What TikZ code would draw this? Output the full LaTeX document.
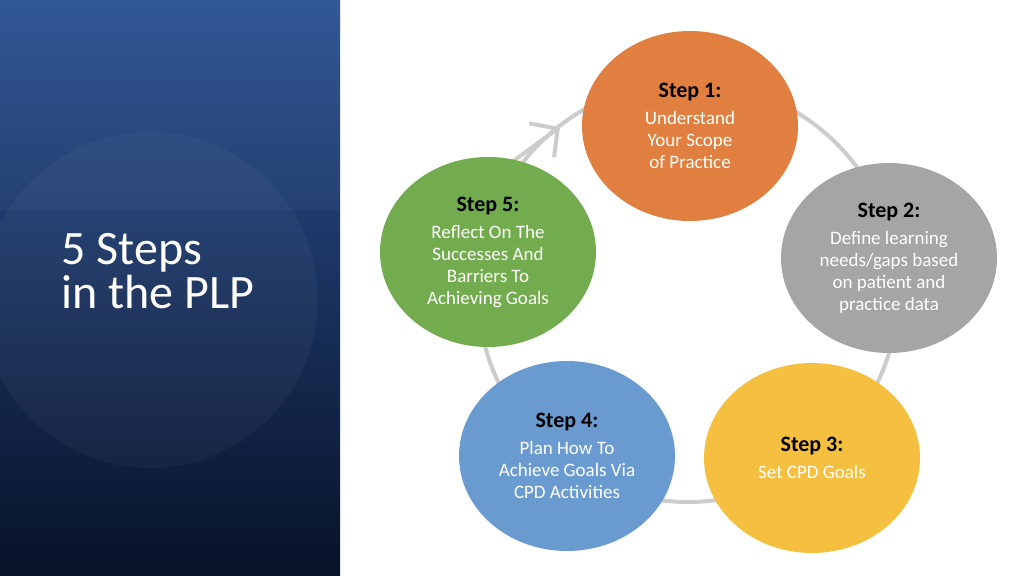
\documentclass[tikz,border=0pt]{standalone}
\usepackage{fontspec}
\setmainfont{Carlito}
\usetikzlibrary{arrows.meta,shapes.geometric}
\definecolor{stepone}{HTML}{E07F3F}
\definecolor{steptwo}{HTML}{A5A5A5}
\definecolor{stepthree}{HTML}{F5BF40}
\definecolor{stepfour}{HTML}{6A9BD0}
\definecolor{stepfive}{HTML}{72AC4E}
\definecolor{ringgray}{HTML}{CCCCCC}
\tikzset{
  stepnode/.style={ellipse, minimum width=216pt, minimum height=190pt, inner sep=0pt, draw=none, align=center, text=white, font=\fontsize{19}{22}\selectfont},
}
\newcommand{\stephead}[1]{{\color{black}\bfseries\fontsize{22}{26}\selectfont #1}\\[5pt]}
\begin{document}
\begin{tikzpicture}[x=1pt,y=-1pt]
\useasboundingbox (0,0) rectangle (1024,575);
\fill[white] (0,0) rectangle (1024,575);
% left panel
\shade[top color={rgb,255:red,44;green,82;blue,148}, bottom color={rgb,255:red,8;green,18;blue,40}] (0,0) rectangle (340,575);
\fill[white, opacity=0.035] (150,300) circle (168);
\fill[white, opacity=0.03] (0,0) rectangle (340,210);
\node[anchor=north west, align=left, text=white, font=\fontsize{48}{44}\selectfont] (title) at (58,230) {5 Steps\\in the PLP};
% ring
\draw[ringgray, line width=4pt] (688,292) circle (210);
\draw[ringgray, line width=4pt, -{Straight Barb[length=20pt,width=42pt]}] (512,162) -- (560,127);
% steps
\node[stepnode, fill=stepone] (s1) at (690,126) {\stephead{Step 1:}Understand\\Your Scope\\of Practice};
\node[stepnode, fill=steptwo] (s2) at (889,258) {\stephead{Step 2:}Define learning\\needs/gaps based\\on patient and\\practice data};
\node[stepnode, fill=stepthree] (s3) at (812,458) {\stephead{Step 3:}Set CPD Goals};
\node[stepnode, fill=stepfour] (s4) at (567,456) {\stephead{Step 4:}Plan How To\\Achieve Goals Via\\CPD Activities};
\node[stepnode, fill=stepfive] (s5) at (488,252) {\stephead{Step 5:}Reflect On The\\Successes And\\Barriers To\\Achieving Goals};
\end{tikzpicture}
\end{document}
